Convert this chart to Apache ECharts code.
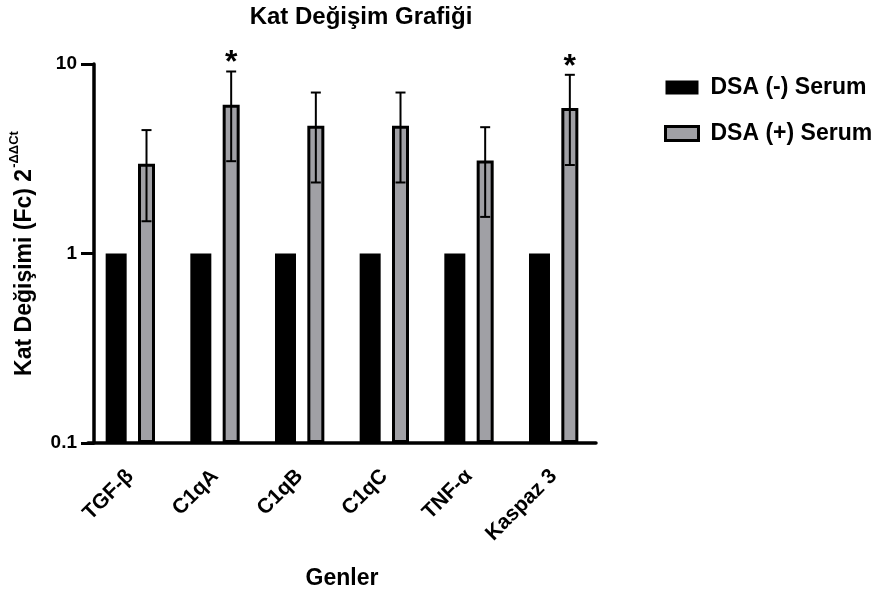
<!DOCTYPE html>
<html>
<head>
<meta charset="utf-8">
<script src="https://cdn.jsdelivr.net/npm/echarts@6/dist/echarts.min.js"></script>
<style>
  html, body { margin: 0; padding: 0; background: #fff; }
  #chart { width: 882px; height: 589px; }
</style>
</head>
<body>
<div id="chart"></div>
<script>
// Genes on the x axis
const genes = ['TGF-β', 'C1qA', 'C1qB', 'C1qC', 'TNF-α', 'Kaspaz 3'];
// Fold change, DSA (-) serum (reference group)
const negSerum = [1, 1, 1, 1, 1, 1];
// Fold change, DSA (+) serum: mean and SD
const posSerum = [2.98, 6.1, 4.72, 4.72, 3.1, 5.85];
const posSerumSD = [1.5, 3.03, 2.35, 2.35, 1.54, 2.92];
// Significance markers above the DSA (+) bars
const significance = ['', '*', '', '', '', '*'];
// Y tick values (log scale)
const yTicks = [0.1, 1, 10];

const FONT = '"Liberation Sans", Arial, Helvetica, sans-serif';
const NEG_W = 21;       // black bar width
const POS_W = 17;       // grey bar width (before border)
const GAP = 0.54;       // bar gap as a fraction of bar width

// Horizontal offset of the grey bar centre within a category band
function posOffset() {
  const total = NEG_W * (1 + GAP) + POS_W;
  return -total / 2 + NEG_W * (1 + GAP) + POS_W / 2;
}

const chart = echarts.init(document.getElementById('chart'), null, { renderer: 'canvas' });

const errData = posSerum.map((v, i) => [i, v, posSerumSD[i]]);

chart.setOption({
  animation: false,
  backgroundColor: '#fff',
  title: {
    text: 'Kat Değişim Grafiği',
    left: 356,
    top: 0,
    textAlign: 'center',
    textStyle: { fontFamily: FONT, fontWeight: 'bold', fontSize: 24, color: '#000' }
  },
  legend: {
    left: 659,
    top: 71,
    orient: 'vertical',
    itemWidth: 33,
    itemHeight: 14,
    itemGap: 23,
    textStyle: { fontFamily: FONT, fontWeight: 'bold', fontSize: 23, color: '#000', padding: [3, 0, 0, 7] },
    data: [
      { name: 'DSA (-) Serum', icon: 'rect', itemStyle: { color: '#000', borderWidth: 0 } },
      { name: 'DSA (+) Serum', icon: 'rect', itemStyle: { color: '#a0a0a5', borderColor: '#000', borderWidth: 3 } }
    ]
  },
  grid: { left: 88, right: 286, top: 64, bottom: 146, outerBoundsMode: 'none' },
  xAxis: {
    type: 'category',
    data: genes,
    name: 'Genler',
    nameLocation: 'middle',
    nameGap: 124,
    nameTextStyle: { fontFamily: FONT, fontWeight: 'bold', fontSize: 23, color: '#000' },
    axisLine: { lineStyle: { color: '#000', width: 3.5 } },
    axisTick: { alignWithLabel: true, length: 12, lineStyle: { color: '#000', width: 3 } },
    axisLabel: {
      interval: 0, rotate: 45, margin: 30,
      fontFamily: FONT, fontWeight: 'bold', fontSize: 21, color: '#000'
    }
  },
  yAxis: {
    type: 'log',
    logBase: 10,
    min: yTicks[0],
    max: yTicks[yTicks.length - 1],
    startValue: yTicks[0],
    offset: -6,
    name: '{m|Kat Değişimi (Fc) 2}{s|-ΔΔCt}',
    nameLocation: 'middle',
    nameRotate: 90,
    nameGap: 58,
    nameTextStyle: {
      rich: {
        m: { fontFamily: FONT, fontWeight: 'bold', fontSize: 23, color: '#000', lineHeight: 28, verticalAlign: 'bottom' },
        s: { fontFamily: FONT, fontWeight: 'bold', fontSize: 13, color: '#000', lineHeight: 28, verticalAlign: 'top', padding: [0, 0, 0, 1] }
      }
    },
    splitLine: { show: false },
    minorTick: { show: false },
    axisLine: { show: true, lineStyle: { color: '#000', width: 3.5 } },
    axisTick: { show: true, length: 13, lineStyle: { color: '#000', width: 3 } },
    axisLabel: {
      margin: 17,
      fontFamily: FONT, fontWeight: 'bold', fontSize: 19, color: '#000',
      formatter: v => String(+v.toPrecision(3))
    }
  },
  series: [
    {
      name: 'DSA (-) Serum',
      type: 'bar',
      data: negSerum,
      barWidth: NEG_W,
      barGap: (GAP * 100) + '%',
      itemStyle: { color: '#000' }
    },
    {
      name: 'DSA (+) Serum',
      type: 'bar',
      data: posSerum,
      barWidth: POS_W,
      barGap: (GAP * 100) + '%',
      itemStyle: { color: '#a0a0a5', borderColor: '#000', borderWidth: 3 }
    },
    {
      name: 'errors',
      type: 'custom',
      data: errData,
      encode: { x: 0, y: 1 },
      z: 5,
      renderItem: function (params, api) {
        const i = api.value(0);
        const mean = api.value(1);
        const sd = api.value(2);
        const mark = significance[i];
        const top = api.coord([i, mean + sd]);
        const bot = api.coord([i, mean - sd]);
        const x = top[0] + posOffset();
        const cap = 5;
        const style = { stroke: '#000', lineWidth: 2 };
        const children = [
          { type: 'line', shape: { x1: x, y1: top[1], x2: x, y2: bot[1] }, style },
          { type: 'line', shape: { x1: x - cap, y1: top[1], x2: x + cap, y2: top[1] }, style },
          { type: 'line', shape: { x1: x - cap, y1: bot[1], x2: x + cap, y2: bot[1] }, style }
        ];
        if (mark) {
          children.push({
            type: 'text',
            style: {
              text: mark, x: x, y: top[1] + 8,
              align: 'center', verticalAlign: 'bottom',
              font: 'bold 32px ' + FONT, fill: '#000'
            }
          });
        }
        return { type: 'group', children };
      }
    }
  ]
});
</script>
</body>
</html>
